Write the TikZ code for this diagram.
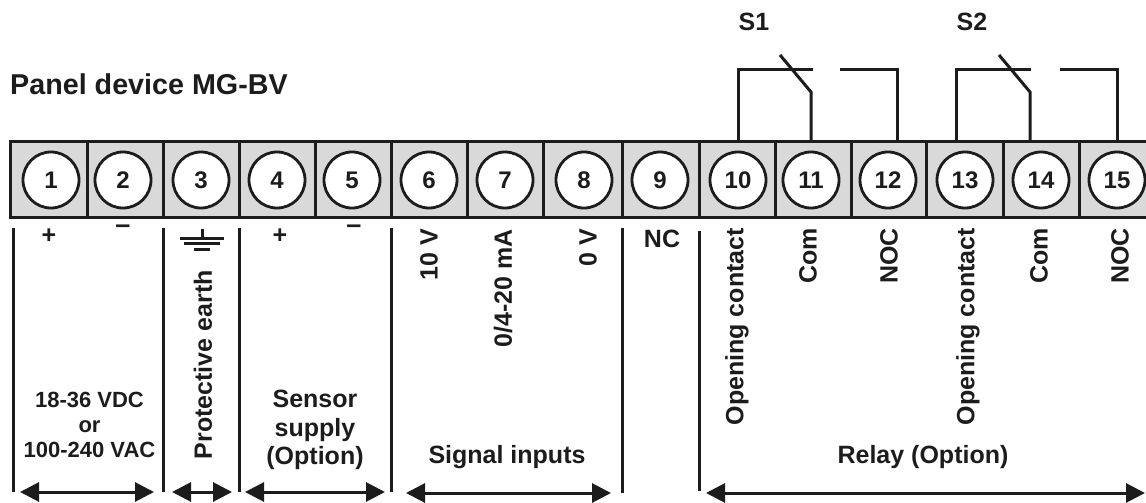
\documentclass[tikz,border=0pt]{standalone}
\usepackage{fontspec}
\setmainfont{Liberation Sans}
\usepackage{xcolor}
\usepackage{tikz}
\usetikzlibrary{positioning, calc, arrows.meta}
\definecolor{inkdark}{HTML}{1C1C1C}
\definecolor{cellgrey}{HTML}{D9D9D9}

\begin{document}
\begin{tikzpicture}[x=1pt, y=-1pt, inkdark, every node/.style={inkdark}]
	\tikzset{arrow/.style={{Triangle[length=19pt, width=19pt]}-{Triangle[length=19pt, width=19pt]}, line width=3pt}}
	\tikzset{wire/.style={line width=3pt}}
	\tikzset{bar/.style={line width=3pt}}
	\tikzset{TerminalCell/.style={draw, rectangle, fill=cellgrey, line width=3pt, outer sep=0pt, minimum height=76pt}}
	\tikzset{TerminalCircle/.style={draw, circle, fill=white, line width=2.8pt, inner sep=0pt, minimum size=56pt, font=\fontsize{24}{24}\selectfont\bfseries}}
	\tikzset{SideLabel/.style={rotate=90, anchor=east, inner sep=0pt, font=\fontsize{25}{25}\selectfont\bfseries}}
	\tikzset{Caption/.style={align=center, inner sep=0pt, font=\fontsize{25}{28.5}\selectfont\bfseries}}
	\tikzset{Polarity/.style={inner sep=0pt, font=\fontsize{25}{25}\selectfont\bfseries}}

	\useasboundingbox (0,0) rectangle (1146,503);
	\clip (0,0) rectangle (1146,503);

	% Title
	\node (title) [Caption, anchor=west, font=\fontsize{28.7}{30}\selectfont\bfseries] at (10,84) {Panel device MG-BV};

	% Terminal strip
	\node (cell1) [TerminalCell, minimum width=77pt] at (48.5,179) {};
	\node (cell2) [TerminalCell, minimum width=76pt] at (125,179) {};
	\node (cell3) [TerminalCell, minimum width=76pt] at (201,179) {};
	\node (cell4) [TerminalCell, minimum width=76pt] at (277,179) {};
	\node (cell5) [TerminalCell, minimum width=76pt] at (353,179) {};
	\node (cell6) [TerminalCell, minimum width=76pt] at (429,179) {};
	\node (cell7) [TerminalCell, minimum width=76pt] at (505,179) {};
	\node (cell8) [TerminalCell, minimum width=79pt] at (582.5,179) {};
	\node (cell9) [TerminalCell, minimum width=77pt] at (660.5,179) {};
	\node (cell10) [TerminalCell, minimum width=76pt] at (737,179) {};
	\node (cell11) [TerminalCell, minimum width=76pt] at (813,179) {};
	\node (cell12) [TerminalCell, minimum width=75pt] at (888.5,179) {};
	\node (cell13) [TerminalCell, minimum width=77pt] at (964.5,179) {};
	\node (cell14) [TerminalCell, minimum width=76pt] at (1041,179) {};
	\node (cell15) [TerminalCell, minimum width=76pt] at (1117,179) {};

	% Terminal numbers
	\node (term1) [TerminalCircle] at (51,180) {1};
	\node (term2) [TerminalCircle] at (123,180) {2};
	\node (term3) [TerminalCircle] at (201,180) {3};
	\node (term4) [TerminalCircle] at (277,180) {4};
	\node (term5) [TerminalCircle] at (352,180) {5};
	\node (term6) [TerminalCircle] at (429,180) {6};
	\node (term7) [TerminalCircle] at (505,180) {7};
	\node (term8) [TerminalCircle] at (584,180) {8};
	\node (term9) [TerminalCircle] at (660,180) {9};
	\node (term10) [TerminalCircle] at (738,180) {10};
	\node (term11) [TerminalCircle] at (811,180) {11};
	\node (term12) [TerminalCircle] at (888,180) {12};
	\node (term13) [TerminalCircle] at (965,180) {13};
	\node (term14) [TerminalCircle] at (1041,180) {14};
	\node (term15) [TerminalCircle] at (1117,180) {15};

	% Relay S1
	\node (s1) [Polarity] at (754,22) {S1};
	\coordinate (s1contact) at (813,70);
	\coordinate (s1open) at (840,70);
	\coordinate (s1knee) at (811,92);
	\coordinate (s1tip) at (780,55);
	\draw [wire] ([xshift=1pt]cell10.north) |- (s1contact);
	\draw [wire] (s1open) -| ([xshift=9pt]cell12.north);
	\draw [wire] ([xshift=-2pt]cell11.north) -- (s1knee) -- (s1tip);

	% Relay S2
	\node (s2) [Polarity] at (972,22) {S2};
	\coordinate (s2contact) at (1031,70);
	\coordinate (s2open) at (1060,70);
	\coordinate (s2knee) at (1030,92);
	\coordinate (s2tip) at (999,55);
	\draw [wire] ([xshift=-8pt]cell13.north) |- (s2contact);
	\draw [wire] (s2open) -| (cell15.north);
	\draw [wire] ([xshift=-11pt]cell14.north) -- (s2knee) -- (s2tip);

	% Polarity marks
	\node (plus1) [Polarity] at (49,236) {+};
	\node (minus2) [Polarity, font=\fontsize{27}{27}\selectfont\bfseries] at (123,229) {–};
	\node (plus4) [Polarity] at (280,236) {+};
	\node (minus5) [Polarity, font=\fontsize{27}{27}\selectfont\bfseries] at (354,229) {–};

	% Earth symbol
	\coordinate (earthtop) at (202,229);
	\coordinate (earthbase) at (202,238);
	\draw [wire] (earthtop) -- (earthbase);
	\draw [wire] ([xshift=-22pt]earthbase) -- ([xshift=22pt]earthbase);
	\draw [wire] ([xshift=-18pt,yshift=-5pt]earthbase) -- ([xshift=18pt,yshift=-5pt]earthbase);
	\draw [wire] ([xshift=-8pt,yshift=-11pt]earthbase) -- ([xshift=8pt,yshift=-11pt]earthbase);

	% Side labels
	\node (lab3) [SideLabel] at (203,270) {Protective earth};
	\node (lab6) [SideLabel] at (429,229) {10 V};
	\node (lab7) [SideLabel] at (503,229) {0/4-20 mA};
	\node (lab8) [SideLabel] at (588,229) {0 V};
	\node (lab9) [Polarity] at (662,239) {NC};
	\node (lab10) [SideLabel] at (737,228) {Opening contact};
	\node (lab11) [SideLabel] at (808,228) {Com};
	\node (lab12) [SideLabel] at (889,228) {NOC};
	\node (lab13) [SideLabel] at (968,228) {Opening contact};
	\node (lab14) [SideLabel] at (1039,228) {Com};
	\node (lab15) [SideLabel] at (1120,228) {NOC};

	% Group captions
	\node (supply) [Caption, font=\fontsize{22}{25}\selectfont\bfseries] at (89.5,425) {18-36 VDC\\or\\100-240 VAC};
	\node (sensor) [Caption] at (315,430) {Sensor\\supply\\(Option)};
	\node (signal) [Caption] at (507,457) {Signal inputs};
	\node (relay) [Caption] at (923,457) {Relay (Option)};

	% Group separators
	\coordinate (bar0a) at (13,228);   \coordinate (bar0b) at (13,492);
	\coordinate (bar1a) at (163,228);  \coordinate (bar1b) at (163,492);
	\coordinate (bar2a) at (239,228);  \coordinate (bar2b) at (239,492);
	\coordinate (bar3a) at (391,228);  \coordinate (bar3b) at (391,492);
	\coordinate (bar4a) at (622,228);  \coordinate (bar4b) at (622,493);
	\coordinate (bar5a) at (699,231);  \coordinate (bar5b) at (699,491);
	\draw [bar] (bar0a) -- (bar0b);
	\draw [bar] (bar1a) -- (bar1b);
	\draw [bar] (bar2a) -- (bar2b);
	\draw [bar] (bar3a) -- (bar3b);
	\draw [bar] (bar4a) -- (bar4b);
	\draw [bar] (bar5a) -- (bar5b);

	% Group arrows
	\coordinate (arr1a) at (20,492);   \coordinate (arr1b) at (154,492);
	\coordinate (arr2a) at (172,492);  \coordinate (arr2b) at (232,492);
	\coordinate (arr3a) at (245,492);  \coordinate (arr3b) at (385,492);
	\coordinate (arr4a) at (406,493);  \coordinate (arr4b) at (611,493);
	\coordinate (arr5a) at (706,493);  \coordinate (arr5b) at (1145,493);
	\draw [arrow] (arr1a) -- (arr1b);
	\draw [arrow] (arr2a) -- (arr2b);
	\draw [arrow] (arr3a) -- (arr3b);
	\draw [arrow] (arr4a) -- (arr4b);
	\draw [arrow] (arr5a) -- (arr5b);
\end{tikzpicture}
\end{document}
